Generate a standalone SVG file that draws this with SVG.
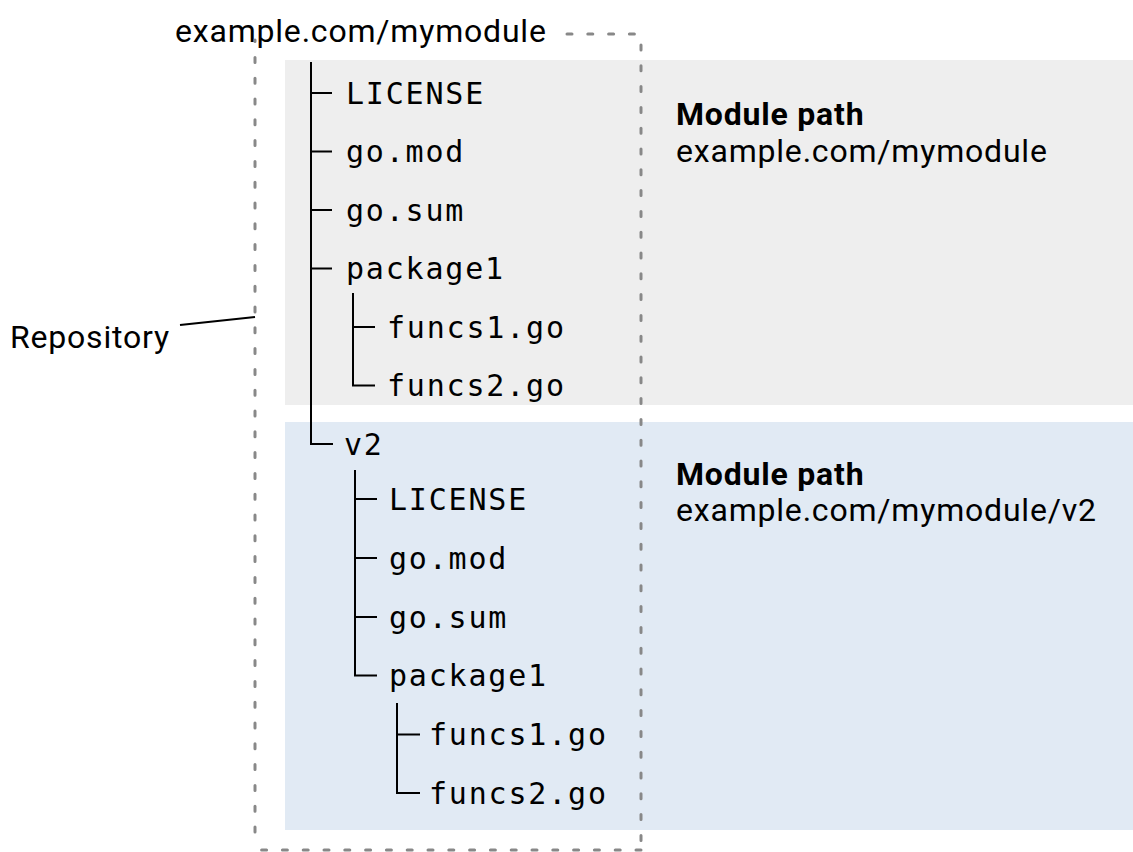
<svg xmlns="http://www.w3.org/2000/svg" width="1133" height="852" viewBox="0 0 1133 852">
  <style>
    .sans { font-family: Roboto, "Liberation Sans", sans-serif; font-size: 32px; letter-spacing: 0.8px; fill: #000; }
    .bold { font-weight: bold; }
    .mono { font-family: "DejaVu Sans Mono", "Liberation Mono", monospace; font-size: 30px; letter-spacing: 1.8px; fill: #000; }
    .tree { fill: none; stroke: #000; stroke-width: 2; }
    .dash { fill: none; stroke: #888; stroke-width: 3; stroke-linecap: round; stroke-dasharray: 5 15.8; }
    .lead { fill: none; stroke: #000; stroke-width: 2; }
  </style>
  <rect width="1133" height="852" fill="#fff"/>

  <!-- module areas -->
  <g id="module-v1">
    <rect x="285" y="60" width="848" height="345" fill="#eeeeee"/>
    <text class="sans bold" x="676" y="125">Module path</text>
    <text class="sans" x="676" y="162">example.com/mymodule</text>
  </g>
  <g id="module-v2">
    <rect x="285" y="422" width="848" height="408" fill="#e1eaf4"/>
    <text class="sans bold" x="676" y="485">Module path</text>
    <text class="sans" x="676" y="521">example.com/mymodule/v2</text>
  </g>

  <!-- repository boundary -->
  <g id="repository">
    <text class="sans" x="175" y="42">example.com/mymodule</text>
    <line class="dash" x1="567" y1="34" x2="641" y2="34"/>
    <line class="dash" x1="641" y1="45" x2="641" y2="850"/>
    <line class="dash" x1="641" y1="850" x2="255" y2="850"/>
    <line class="dash" x1="255" y1="832" x2="255" y2="40"/>
    <text class="sans" x="10" y="348">Repository</text>
  </g>

  <!-- tree connectors -->
  <g id="connectors">
    <line class="lead" x1="180" y1="325" x2="255" y2="317"/>
    <path class="tree" d="M311 62 V444 H333 M311 93 H332 M311 151.5 H332 M311 210 H332 M311 268.5 H332"/>
    <path class="tree" d="M353 293 V385.5 H375 M353 327 H375"/>
    <path class="tree" d="M355 470 V675.5 H377 M355 499 H377 M355 558 H377 M355 617 H377"/>
    <path class="tree" d="M397 703 V793 H420 M397 734.5 H420"/>
  </g>

  <!-- tree entries -->
  <g id="file-license"><text class="mono" x="346" y="104">LICENSE</text></g>
  <g id="file-gomod"><text class="mono" x="346" y="162">go.mod</text></g>
  <g id="file-gosum"><text class="mono" x="346" y="221">go.sum</text></g>
  <g id="dir-package1"><text class="mono" x="346" y="279">package1</text></g>
  <g id="file-funcs1"><text class="mono" x="387" y="338">funcs1.go</text></g>
  <g id="file-funcs2"><text class="mono" x="387" y="396">funcs2.go</text></g>
  <g id="dir-v2"><text class="mono" x="344" y="455">v2</text></g>
  <g id="v2-file-license"><text class="mono" x="389" y="510">LICENSE</text></g>
  <g id="v2-file-gomod"><text class="mono" x="389" y="569">go.mod</text></g>
  <g id="v2-file-gosum"><text class="mono" x="389" y="628">go.sum</text></g>
  <g id="v2-dir-package1"><text class="mono" x="389" y="686">package1</text></g>
  <g id="v2-file-funcs1"><text class="mono" x="429" y="745">funcs1.go</text></g>
  <g id="v2-file-funcs2"><text class="mono" x="429" y="804">funcs2.go</text></g>
</svg>
